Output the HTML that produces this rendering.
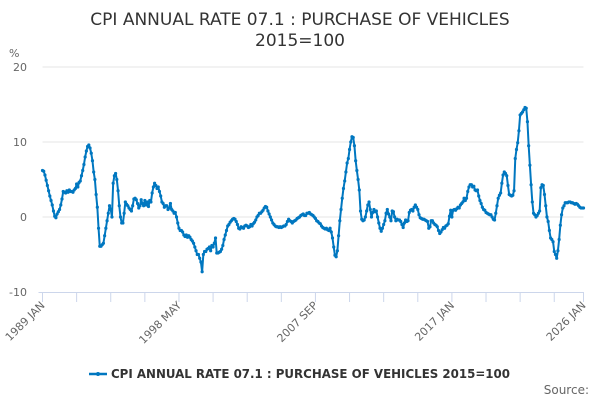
<!DOCTYPE html>
<html><head><meta charset="utf-8"><style>
body{margin:0;background:#fff;font-family:"Liberation Sans","DejaVu Sans",sans-serif}
svg text{font-family:"DejaVu Sans","Liberation Sans",sans-serif}
</style></head><body>
<svg id="chart" width="600" height="400" viewBox="0 0 600 400" xmlns="http://www.w3.org/2000/svg">
<text x="300" y="25" text-anchor="middle" font-size="17" fill="#333">CPI ANNUAL RATE 07.1 : PURCHASE OF VEHICLES</text>
<text x="300" y="46" text-anchor="middle" font-size="17" fill="#333">2015=100</text>
<text x="9" y="57" font-size="11" fill="#666">%</text>
<g id="grid"></g>
<g id="xaxis"></g>
<g id="series"></g>
<g>
<line x1="89" y1="374" x2="107" y2="374" stroke="#0077c0" stroke-width="2.5"/>
<circle cx="98" cy="374" r="2" fill="#0077c0"/>
<text x="111" y="378" font-size="12" font-weight="bold" fill="#333" textLength="399" lengthAdjust="spacingAndGlyphs">CPI ANNUAL RATE 07.1 : PURCHASE OF VEHICLES 2015=100</text>
</g>
<text x="589" y="394" text-anchor="end" font-size="12" fill="#666">Source:</text>
</svg>
<script>
const startYear = 1989;
const yTicks = [20, 10, 0, -10];
const xTickLabels = ["1989 JAN", "1998 MAY", "2007 SEP", "2017 JAN", "2026 JAN"];
const xTickMonths = [0, 112, 224, 336, 444];
const values = [
6.2,6.1,5.6,4.9,4.2,3.5,2.8,2.2,1.6,0.8,0.1,-0.1,
0.4,0.7,1.0,1.6,2.4,3.4,3.3,3.2,3.5,3.3,3.6,3.4,
3.4,3.3,3.6,3.8,4.4,4.0,4.6,4.8,5.5,6.2,7.0,8.0,
8.8,9.4,9.6,9.2,8.5,7.5,6.0,5.0,3.0,1.3,-1.5,-3.9,
-3.9,-3.7,-3.5,-2.5,-1.5,-0.5,0.5,1.5,1.0,0.0,4.5,5.5,
5.8,5.0,3.5,1.5,0.0,-0.8,-0.8,0.5,2.0,1.7,1.5,1.2,
1.0,0.8,1.5,2.4,2.5,2.3,1.8,1.2,1.5,2.3,1.8,1.5,
2.2,1.6,2.0,1.4,2.2,2.0,3.2,4.0,4.5,4.2,3.8,4.0,
3.4,2.8,2.0,1.8,1.3,1.5,1.5,1.0,1.2,1.8,1.0,0.8,
0.5,0.6,0.0,-0.8,-1.5,-1.8,-1.8,-2.0,-2.4,-2.6,-2.4,-2.7,
-2.5,-2.7,-3.0,-3.2,-3.5,-4.0,-4.5,-5.0,-5.0,-5.5,-6.0,-7.3,
-5.0,-4.6,-4.6,-4.3,-4.2,-4.0,-4.5,-3.8,-4.0,-3.5,-2.8,-4.8,
-4.8,-4.7,-4.6,-4.3,-3.8,-3.0,-2.4,-1.8,-1.2,-1.0,-0.7,-0.5,
-0.3,-0.2,-0.3,-0.6,-1.0,-1.5,-1.6,-1.3,-1.4,-1.5,-1.2,-1.1,
-1.2,-1.4,-1.3,-1.0,-1.2,-0.9,-0.7,-0.4,0.0,0.2,0.5,0.5,
0.7,0.9,1.2,1.4,1.3,0.8,0.4,0.0,-0.4,-0.8,-1.0,-1.2,
-1.3,-1.3,-1.4,-1.3,-1.4,-1.3,-1.2,-1.2,-1.0,-0.6,-0.3,-0.5,
-0.6,-0.8,-0.6,-0.5,-0.4,-0.2,-0.1,0.0,0.2,0.3,0.4,0.2,
0.2,0.5,0.5,0.6,0.4,0.3,0.2,0.0,-0.2,-0.5,-0.6,-0.8,
-0.9,-1.2,-1.4,-1.5,-1.6,-1.5,-1.7,-1.8,-1.5,-2.0,-2.8,-4.0,
-5.1,-5.3,-4.5,-2.5,-0.5,1.0,2.5,3.8,4.8,6.0,7.2,7.8,
9.0,10.0,10.7,10.6,9.5,7.5,6.2,5.0,3.6,0.8,-0.3,-0.5,
-0.4,0.0,0.8,1.6,2.0,1.0,0.0,0.6,1.0,0.7,0.8,0.0,
-0.8,-1.5,-1.9,-1.5,-1.0,-0.5,0.5,1.0,0.4,0.0,-0.5,0.8,
0.7,0.0,-0.5,-0.3,-0.4,-0.4,-0.6,-1.0,-1.4,-0.8,-0.4,-0.6,
-0.5,0.6,0.9,1.0,0.8,1.3,1.6,1.3,1.0,0.3,-0.1,-0.2,
-0.3,-0.3,-0.4,-0.5,-0.6,-1.5,-1.3,-0.5,-0.5,-0.8,-1.0,-1.1,
-1.3,-1.8,-2.2,-2.0,-1.7,-1.4,-1.5,-1.2,-1.1,-0.9,0.1,0.9,
0.0,0.9,1.0,0.9,1.1,1.3,1.2,1.6,1.8,2.0,2.5,2.2,
2.5,3.4,4.0,4.3,4.3,4.0,4.1,3.6,3.5,3.6,2.8,2.2,
1.8,1.3,1.0,0.9,0.6,0.5,0.4,0.3,0.3,0.0,-0.3,-0.4,
0.5,1.5,2.5,2.9,3.2,4.5,5.6,6.0,5.8,5.5,4.2,3.0,
2.9,2.8,2.9,3.5,7.8,9.0,9.9,11.5,13.6,13.8,14.0,14.3,
14.6,14.5,12.7,9.5,6.9,4.3,2.0,0.5,0.3,0.0,0.2,0.5,
0.8,3.9,4.3,4.2,3.0,1.5,0.0,-0.6,-1.8,-2.8,-3.0,-3.3,
-4.6,-5.0,-5.5,-4.5,-3.0,-1.1,0.3,1.2,1.5,1.9,1.9,1.9,
2.0,2.0,1.9,1.9,1.8,1.7,1.8,1.7,1.5,1.3,1.2,1.2,
1.2
];
const NS = "http://www.w3.org/2000/svg";
const X0 = 42.5, X1 = 583.5, Y_TOP = 67, Y_BOT = 292;
const yMin = -10, yMax = 20;
const nMonths = 444;
function xScale(m){ return X0 + (X1 - X0) * m / nMonths; }
function yScale(v){ return Y_BOT - (v - yMin) / (yMax - yMin) * (Y_BOT - Y_TOP); }
function mk(tag, attrs){ const e = document.createElementNS(NS, tag); for (const k in attrs) e.setAttribute(k, attrs[k]); return e; }
const grid = document.getElementById('grid');
yTicks.forEach(t => {
  const y = yScale(t);
  if (t !== yMin) {
    const l = mk('line', {x1: X0, x2: X1, y1: y, y2: y, stroke: '#e6e6e6', 'stroke-width': 1});
    
    
    grid.appendChild(l);
  }
  const tx = mk('text', {x: 27, y: y + 4, 'text-anchor': 'end', 'font-size': 11, fill: '#666'});
  tx.textContent = String(t);
  
  
  grid.appendChild(tx);
});
const xa = document.getElementById('xaxis');
const axisLine = mk('line', {x1: X0 - 4, x2: X1, y1: Y_BOT + 0.5, y2: Y_BOT + 0.5, stroke: '#ccd6eb', 'stroke-width': 1});


xa.appendChild(axisLine);
for (let m = 0; m <= nMonths; m += 28) {
  const x = xScale(m);
  const tk = mk('line', {x1: x, x2: x, y1: Y_BOT, y2: Y_BOT + 10, stroke: '#ccd6eb', 'stroke-width': 1});
  
  
  xa.appendChild(tk);
}
const lastTk = mk('line', {x1: xScale(nMonths), x2: xScale(nMonths), y1: Y_BOT, y2: Y_BOT + 10, stroke: '#ccd6eb', 'stroke-width': 1});


xa.appendChild(lastTk);
xTickLabels.forEach((lab, i) => {
  const x = xScale(xTickMonths[i]) + 3, y = Y_BOT + 14;
  const t = mk('text', {x: x, y: y, 'text-anchor': 'end', 'font-size': 11, fill: '#666', transform: 'rotate(-45 ' + x + ' ' + y + ')'});
  t.textContent = lab;
  
  
  xa.appendChild(t);
});
const ser = document.getElementById('series');
const pts = values.map((v, i) => xScale(i).toFixed(2) + ',' + yScale(v).toFixed(2)).join(' ');
const line = mk('polyline', {points: pts, fill: 'none', stroke: '#0077c0', 'stroke-width': 2, 'stroke-linejoin': 'round'});


ser.appendChild(line);
values.forEach((v, i) => {
  const c = mk('circle', {cx: xScale(i), cy: yScale(v), r: 1.6, fill: '#0077c0'});
  
  
  ser.appendChild(c);
});
</script>
</body></html>
